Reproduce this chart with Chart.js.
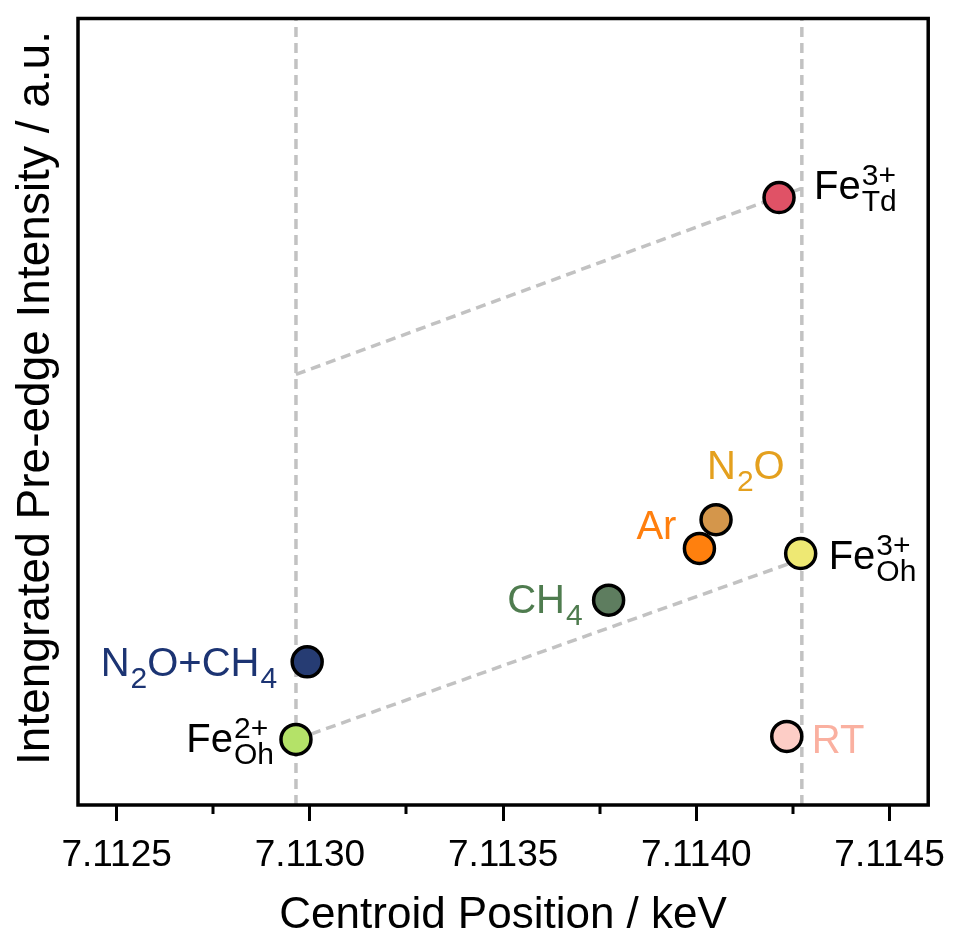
<!DOCTYPE html>
<html>
<head>
<meta charset="utf-8">
<script src="https://cdn.jsdelivr.net/npm/chart.js@4.4.0/dist/chart.umd.min.js"></script>
<style>
  html, body { margin: 0; padding: 0; background: #fff; }
  #wrap { width: 959px; height: 938px; }
</style>
</head>
<body>
<div id="wrap"><canvas id="mycanvas" width="959" height="938"></canvas></div>
<script>
// data (y is arbitrary units, 0..1 over the plot height)
var samples   = ['Fe3+ Td', 'N2O', 'Ar', 'Fe3+ Oh', 'CH4', 'N2O+CH4', 'Fe2+ Oh', 'RT'];
var centroid  = [7.114214, 7.114051, 7.114008, 7.114270, 7.113773, 7.112993, 7.112964, 7.114234];
var intensity = [0.7724, 0.3628, 0.3262, 0.3198, 0.2604, 0.1820, 0.0834, 0.0872];

// reference guide lines
var refLeftX  = 7.112964;
var refRightX = 7.114273;
var tdLineX = [7.112964, 7.114285];
var tdLineY = [0.5474, 0.7863];
var ohLineX = [7.112964, 7.114285];
var ohLineY = [0.0834, 0.3148];

var xMin = 7.1124, xMax = 7.1146;
var xTicks = [7.1125, 7.1130, 7.1135, 7.1140, 7.1145];
var xMinorTicks = [7.11275, 7.11325, 7.11375, 7.11425];

var xTitle = 'Centroid Position / keV';
var yTitle = 'Intengrated Pre-edge Intensity / a.u.';

var fillColors  = ['#e05266', '#d4964b', '#ff800e', '#eee873', '#5e7d5f', '#263c73', '#b4e268', '#fdcdc6'];
var labelColors = ['#000000', '#e4a01e', '#ff7f0e', '#000000', '#4f7c4f', '#1c3473', '#000000', '#fab0a0'];

// rich text of the point labels
var pointLabels = [
  [{t: 'Fe'}, {sup: '3+', sub: 'Td'}],
  [{t: 'N'}, {sub: '2'}, {t: 'O'}],
  [{t: 'Ar'}],
  [{t: 'Fe'}, {sup: '3+', sub: 'Oh'}],
  [{t: 'CH'}, {sub: '4'}],
  [{t: 'N'}, {sub: '2'}, {t: 'O+CH'}, {sub: '4'}],
  [{t: 'Fe'}, {sup: '2+', sub: 'Oh'}],
  [{t: 'RT'}]
];
// label offsets from the point centre: dx, baseline dy, side
var labelOffsets = [
  [35, 1, 'left'],
  [-9, -41, 'left'],
  [-23, -9, 'right'],
  [28, 16, 'left'],
  [-26, 13, 'right'],
  [-30, 14, 'right'],
  [-22, 13, 'right'],
  [25, 17, 'left']
];

var FONT = "'Liberation Sans', Arial, Helvetica, sans-serif";
var guideColor = '#c2c2c2';

var boxPlugin = {
  id: 'boxPlugin',
  afterDraw: function(chart) {
    var ctx = chart.ctx, a = chart.chartArea, xs = chart.scales.x;
    ctx.save();
    ctx.strokeStyle = '#000';
    ctx.lineWidth = 3.5;
    ctx.strokeRect(a.left, a.top, a.right - a.left, a.bottom - a.top);
    // minor ticks
    ctx.lineWidth = 3;
    ctx.beginPath();
    xMinorTicks.forEach(function(v) {
      var px = Math.round(xs.getPixelForValue(v));
      ctx.moveTo(px, a.bottom);
      ctx.lineTo(px, a.bottom + 9);
    });
    ctx.stroke();
    // y axis title
    ctx.fillStyle = '#000';
    ctx.font = '46px ' + FONT;
    ctx.textAlign = 'center';
    ctx.textBaseline = 'alphabetic';
    ctx.translate(49, 398);
    ctx.rotate(-Math.PI / 2);
    ctx.fillText(yTitle, 0, 0);
    ctx.restore();
  }
};

var labelPlugin = {
  id: 'labelPlugin',
  afterDatasetsDraw: function(chart) {
    var ctx = chart.ctx;
    var meta = chart.getDatasetMeta(0);
    var big = '40px ' + FONT, small = '30px ' + FONT;
    ctx.save();
    ctx.textBaseline = 'alphabetic';
    ctx.textAlign = 'left';
    meta.data.forEach(function(pt, i) {
      var parts = pointLabels[i];
      var off = labelOffsets[i];
      var widths = parts.map(function(p) {
        if (p.t) { ctx.font = big; return ctx.measureText(p.t).width; }
        ctx.font = small;
        var w1 = p.sup ? ctx.measureText(p.sup).width : 0;
        var w2 = p.sub ? ctx.measureText(p.sub).width : 0;
        return Math.max(w1, w2) + 1;
      });
      var total = widths.reduce(function(s, w) { return s + w; }, 0);
      var x = off[2] === 'right' ? pt.x + off[0] - total : pt.x + off[0];
      var y = pt.y + off[1];
      ctx.fillStyle = labelColors[i];
      parts.forEach(function(p, k) {
        if (p.t) {
          ctx.font = big;
          ctx.fillText(p.t, x, y);
        } else {
          ctx.font = small;
          if (p.sup) ctx.fillText(p.sup, x + 1, y - 14);
          if (p.sub) ctx.fillText(p.sub, x + 1, y + 12);
        }
        x += widths[k];
      });
    });
    ctx.restore();
  }
};

function guide(xv, yv) {
  return {
    type: 'scatter',
    data: xv.map(function(v, i) { return {x: v, y: yv[i]}; }),
    showLine: true,
    borderColor: guideColor,
    borderWidth: 3.5,
    borderDash: [10, 6],
    pointRadius: 0,
    fill: false,
    order: 2
  };
}

var ctx = document.getElementById('mycanvas');
var chart = new Chart(ctx, {
  type: 'scatter',
  data: {
    datasets: [
      {
        label: 'samples',
        data: centroid.map(function(v, i) { return {x: v, y: intensity[i]}; }),
        backgroundColor: fillColors,
        borderColor: '#000',
        borderWidth: 3.5,
        pointRadius: 15,
        pointHoverRadius: 15,
        order: 0
      },
      guide([refLeftX, refLeftX], [0, 1]),
      guide([refRightX, refRightX], [0, 1]),
      guide(tdLineX, tdLineY),
      guide(ohLineX, ohLineY)
    ]
  },
  options: {
    responsive: false,
    animation: false,
    events: [],
    layout: { padding: { top: 14, right: 27, bottom: 0, left: 0 } },
    plugins: { legend: { display: false }, tooltip: { enabled: false } },
    scales: {
      x: {
        type: 'linear',
        min: xMin,
        max: xMax,
        afterBuildTicks: function(s) { s.ticks = xTicks.map(function(v) { return {value: v}; }); },
        afterFit: function(s) { s.height = 133; },
        ticks: {
          color: '#000',
          padding: 13,
          maxRotation: 0,
          font: { family: FONT, size: 37 },
          callback: function(v) { return Number(v).toFixed(4); }
        },
        grid: { drawOnChartArea: false, drawTicks: true, tickLength: 16, tickWidth: 3, tickColor: '#000' },
        border: { display: false },
        title: {
          display: true,
          text: xTitle,
          color: '#000',
          font: { family: FONT, size: 44, lineHeight: 1.0 },
          padding: { top: 0, bottom: 0 }
        }
      },
      y: {
        type: 'linear',
        min: 0,
        max: 1,
        afterFit: function(s) { s.width = 78; },
        ticks: { display: false },
        grid: { display: false },
        border: { display: false },
        title: { display: false }
      }
    }
  },
  plugins: [boxPlugin, labelPlugin]
});
</script>
</body>
</html>
